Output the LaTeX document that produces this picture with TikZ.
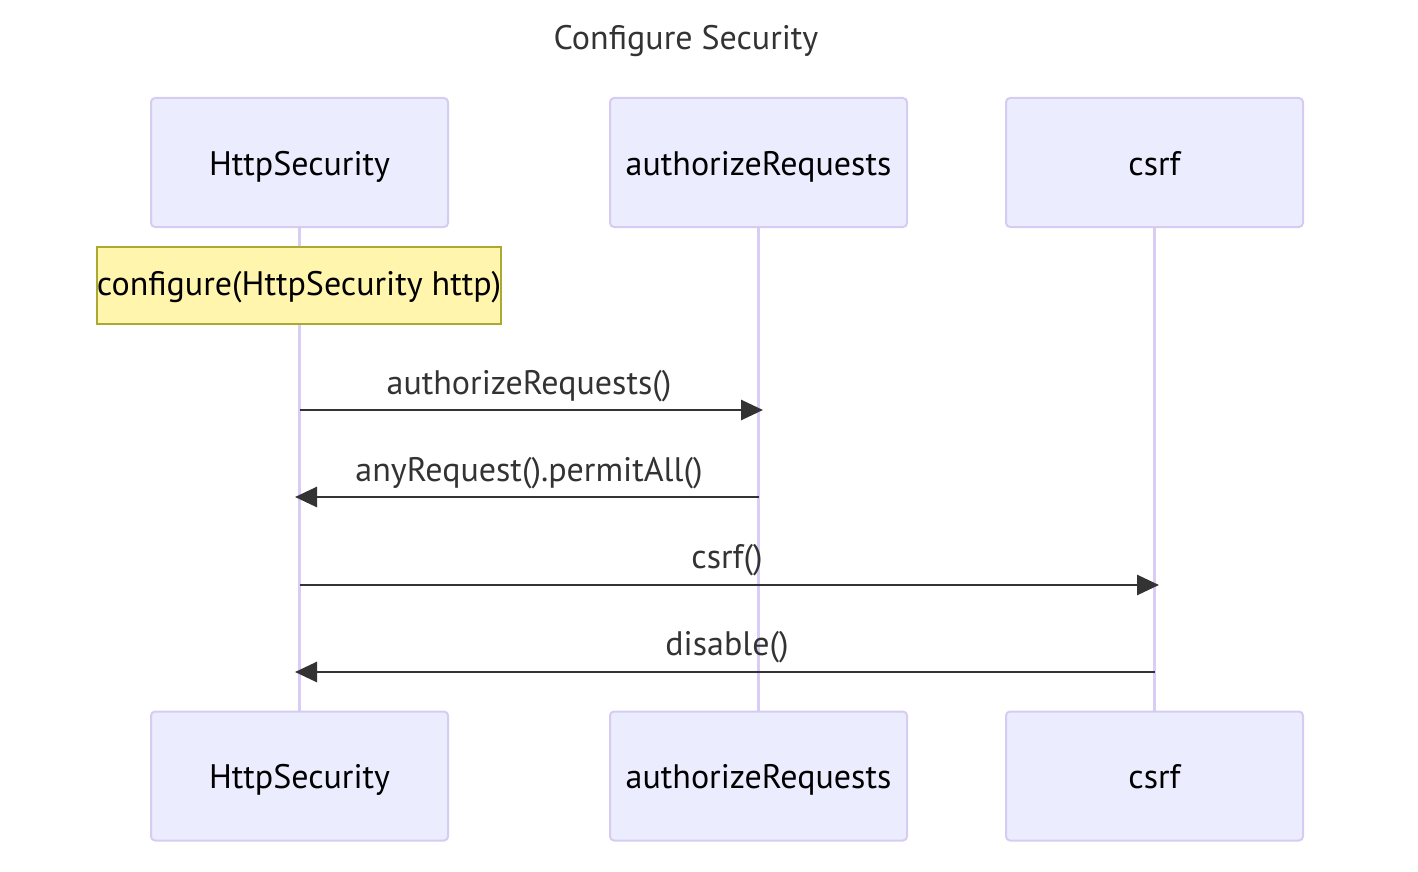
\documentclass[tikz,border=0pt]{standalone}
\usepackage{fontspec}
\setmainfont{PT Sans}
\usetikzlibrary{arrows.meta}
\definecolor{actfill}{HTML}{ECECFF}
\definecolor{actline}{HTML}{D6CCF2}
\definecolor{lifeline}{HTML}{D9CCF5}
\definecolor{notefill}{HTML}{FFF5AD}
\definecolor{noteline}{HTML}{AAAA33}
\definecolor{txt}{HTML}{333333}
\begin{document}
\begin{tikzpicture}[x=0.5pt,y=-0.5pt,
  actor/.style={draw=actline,fill=actfill,line width=1pt,rounded corners=2pt,minimum width=148.5pt,minimum height=64.5pt,inner sep=0pt,font=\fontsize{17}{20}\selectfont,text=black,text height=12.5pt,text depth=0pt},
  lifel/.style={draw=lifeline,line width=1.7pt},
  msg/.style={draw=txt,line width=1.4pt,-{Triangle[length=11pt,width=10pt]}},
  lbl/.style={font=\fontsize{17}{20}\selectfont,text=txt,inner sep=0pt,anchor=base}]
\useasboundingbox (0,0) rectangle (1418,872);
\node[font=\fontsize{17}{20}\selectfont,text=txt,anchor=base,inner sep=0pt] (title) at (686,50) {Configure Security};
% lifelines
\draw[lifel] (299.5,227) -- (299.5,712);
\draw[lifel] (758.5,227) -- (758.5,712);
\draw[lifel] (1154.5,227) -- (1154.5,712);
% actors
\node[actor] (a1) at (299.5,162.5) {HttpSecurity};
\node[actor] (a2) at (758.5,162.5) {authorizeRequests};
\node[actor] (a3) at (1154.5,162.5) {csrf};
\node[actor] (b1) at (299.5,776) {HttpSecurity};
\node[actor] (b2) at (758.5,776) {authorizeRequests};
\node[actor] (b3) at (1154.5,776) {csrf};
% note
\node[draw=noteline,fill=notefill,line width=0.8pt,minimum width=201pt,minimum height=38.5pt,inner sep=0pt,font=\fontsize{17}{20}\selectfont,text=black,text height=9.5pt,text depth=0pt] (note) at (299,285.5) {configure(HttpSecurity http)};
% messages
\coordinate (m1s) at (299.5,410); \coordinate (m1e) at (763,410);
\coordinate (m2s) at (758.5,497); \coordinate (m2e) at (295,497);
\coordinate (m3s) at (299.5,585); \coordinate (m3e) at (1159,585);
\coordinate (m4s) at (1154.5,672); \coordinate (m4e) at (295,672);
\draw[msg] (m1s) -- (m1e);
\draw[msg] (m2s) -- (m2e);
\draw[msg] (m3s) -- (m3e);
\draw[msg] (m4s) -- (m4e);
\node[lbl] (l1) at (529,394) {authorizeRequests()};
\node[lbl] (l2) at (529,481) {anyRequest().permitAll()};
\node[lbl] (l3) at (727,568) {csrf()};
\node[lbl] (l4) at (727,655) {disable()};
\end{tikzpicture}
\end{document}
